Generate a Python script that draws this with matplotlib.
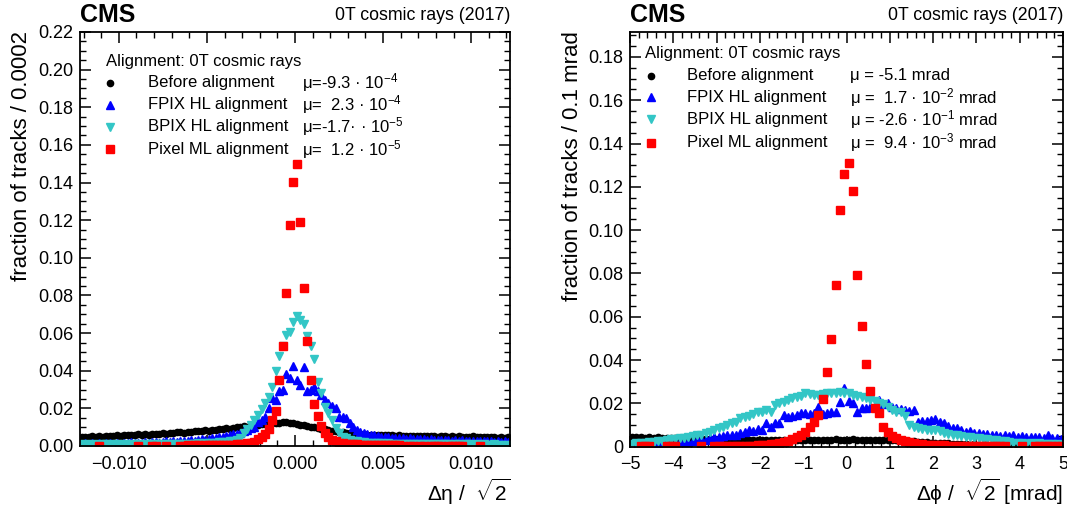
import numpy as np
import matplotlib
matplotlib.use('Agg')
import matplotlib.pyplot as plt
from matplotlib.ticker import MultipleLocator, FuncFormatter

plt.rcParams['font.family'] = ['Liberation Sans', 'DejaVu Sans']
plt.rcParams['mathtext.fontset'] = 'custom'
plt.rcParams['mathtext.rm'] = 'Liberation Sans'
plt.rcParams['mathtext.it'] = 'Liberation Sans'
plt.rcParams['mathtext.bf'] = 'Liberation Sans:bold'

# ---- delta eta / sqrt2 : 122 bins of 0.0002 from -0.0122 to 0.0122
eta_range = (-0.0122, 0.0122)
eta_before = [0.0048, 0.0050, 0.0046, 0.0051, 0.0049, 0.0053, 0.0050, 0.0054, 0.0052, 0.0055,
              0.0057, 0.0053, 0.0058, 0.0056, 0.0060, 0.0058, 0.0062, 0.0059, 0.0063, 0.0061,
              0.0064, 0.0062, 0.0066, 0.0068, 0.0065, 0.0070, 0.0069, 0.0072, 0.0074, 0.0071,
              0.0076, 0.0075, 0.0078, 0.0080, 0.0079, 0.0083, 0.0082, 0.0086, 0.0085, 0.0089,
              0.0091, 0.0093, 0.0092, 0.0097, 0.0099, 0.0101, 0.0104, 0.0103, 0.0108, 0.0110,
              0.0112, 0.0115, 0.0117, 0.0120, 0.0122, 0.0124, 0.0123, 0.0126, 0.0125, 0.0122,
              0.0120, 0.0116, 0.0113, 0.0110, 0.0106, 0.0103, 0.0099, 0.0096, 0.0092, 0.0088,
              0.0085, 0.0081, 0.0078, 0.0075, 0.0072, 0.0070, 0.0068, 0.0066, 0.0065, 0.0063,
              0.0062, 0.0061, 0.0060, 0.0059, 0.0058, 0.0059, 0.0057, 0.0056, 0.0057, 0.0055,
              0.0056, 0.0054, 0.0055, 0.0053, 0.0054, 0.0052, 0.0053, 0.0054, 0.0051, 0.0052,
              0.0053, 0.0050, 0.0052, 0.0051, 0.0049, 0.0052, 0.0050, 0.0051, 0.0048, 0.0050,
              0.0049, 0.0051, 0.0048, 0.0050, 0.0047, 0.0049, 0.0046, 0.0048, 0.0045, 0.0047,
              0.0045, 0.0046]
eta_fpix = [0.0012, 0.0016, 0.0010, 0.0015, 0.0013, 0.0017, 0.0011, 0.0014, 0.0016, 0.0012,
            0.0015, 0.0013, 0.0017, 0.0014, 0.0019, 0.0016, 0.0018, 0.0015, 0.0020, 0.0017,
            0.0019, 0.0022, 0.0018, 0.0021, 0.0024, 0.0020, 0.0025, 0.0023, 0.0027, 0.0026,
            0.0029, 0.0031, 0.0028, 0.0033, 0.0036, 0.0034, 0.0039, 0.0042, 0.0041, 0.0046,
            0.0050, 0.0055, 0.0058, 0.0064, 0.0062, 0.0070, 0.0078, 0.0085, 0.0095, 0.0103,
            0.0125, 0.0140, 0.0156, 0.0200, 0.0254, 0.0245, 0.0290, 0.0300, 0.0380, 0.0360,
            0.0427, 0.0350, 0.0325, 0.0420, 0.0290, 0.0300, 0.0316, 0.0290, 0.0270, 0.0245,
            0.0230, 0.0210, 0.0200, 0.0156, 0.0156, 0.0150, 0.0120, 0.0100, 0.0085, 0.0075,
            0.0070, 0.0066, 0.0060, 0.0056, 0.0052, 0.0050, 0.0046, 0.0048, 0.0043, 0.0044,
            0.0040, 0.0042, 0.0038, 0.0040, 0.0036, 0.0038, 0.0035, 0.0036, 0.0033, 0.0035,
            0.0032, 0.0034, 0.0030, 0.0033, 0.0031, 0.0029, 0.0032, 0.0028, 0.0030, 0.0027,
            0.0029, 0.0026, 0.0028, 0.0025, 0.0027, 0.0024, 0.0026, 0.0023, 0.0025, 0.0022,
            0.0024, 0.0021]
eta_bpix = [0.0008, 0.0006, 0.0010, 0.0007, 0.0009, 0.0006, 0.0008, 0.0010, 0.0007, 0.0009,
            0.0008, 0.0006, 0.0009, 0.0007, 0.0010, 0.0008, 0.0009, 0.0007, 0.0011, 0.0008,
            0.0010, 0.0009, 0.0011, 0.0008, 0.0012, 0.0010, 0.0011, 0.0009, 0.0012, 0.0011,
            0.0012, 0.0013, 0.0011, 0.0014, 0.0013, 0.0015, 0.0016, 0.0015, 0.0018, 0.0019,
            0.0021, 0.0022, 0.0025, 0.0027, 0.0033, 0.0045, 0.0070, 0.0088, 0.0110, 0.0140,
            0.0165, 0.0196, 0.0228, 0.0260, 0.0316, 0.0400, 0.0480, 0.0530, 0.0590, 0.0604,
            0.0660, 0.0690, 0.0670, 0.0650, 0.0587, 0.0530, 0.0460, 0.0340, 0.0280, 0.0206,
            0.0178, 0.0139, 0.0096, 0.0070, 0.0050, 0.0040, 0.0033, 0.0028, 0.0025, 0.0022,
            0.0020, 0.0018, 0.0017, 0.0016, 0.0015, 0.0014, 0.0013, 0.0014, 0.0012, 0.0013,
            0.0012, 0.0011, 0.0012, 0.0010, 0.0011, 0.0010, 0.0009, 0.0011, 0.0009, 0.0010,
            0.0009, 0.0008, 0.0010, 0.0008, 0.0009, 0.0007, 0.0009, 0.0008, 0.0007, 0.0009,
            0.0008, 0.0007, 0.0008, 0.0006, 0.0008, 0.0007, 0.0006, 0.0008, 0.0007, 0.0006,
            0.0007, 0.0006]
eta_pixel = [0, 0, 0, 0, 0, 0.0002, 0, 0, 0, 0,
             0, 0, 0, 0, 0, 0, 0.0002, 0, 0, 0,
             0.0002, 0.0002, 0, 0, 0.0002, 0, 0, 0, 0.0002, 0.0002,
             0.0003, 0.0002, 0.0003, 0.0003, 0.0002, 0.0004, 0.0003, 0.0004, 0.0004, 0.0005,
             0.0005, 0.0006, 0.0006, 0.0007, 0.0008, 0.0009, 0.0011, 0.0014, 0.0018, 0.0023,
             0.0036, 0.0050, 0.0065, 0.0092, 0.0140, 0.0184, 0.0353, 0.0530, 0.0811, 0.1175,
             0.1403, 0.1500, 0.1191, 0.0838, 0.0560, 0.0352, 0.0224, 0.0157, 0.0106, 0.0068,
             0.0050, 0.0032, 0.0024, 0.0018, 0.0014, 0.0012, 0.0010, 0.0009, 0.0008, 0.0007,
             0.0006, 0.0006, 0.0005, 0.0005, 0.0004, 0.0004, 0.0003, 0.0004, 0.0003, 0.0003,
             0.0003, 0.0002, 0, 0.0002, 0.0002, 0, 0.0002, 0.0002, 0, 0.0002,
             0.0002, 0.0002, 0.0002, 0, 0.0002, 0.0002, 0.0002, 0.0002, 0.0002, 0,
             0, 0, 0, 0.0002, 0, 0, 0, 0, 0, 0,
             0, 0]

# ---- delta phi / sqrt2 [mrad] : 100 bins of 0.1 mrad from -5 to 5
phi_range = (-5.0, 5.0)
phi_before = [0.0045, 0.0043, 0.0046, 0.0042, 0.0044, 0.0041, 0.0043, 0.0040, 0.0042, 0.0039,
              0.0041, 0.0038, 0.0040, 0.0037, 0.0039, 0.0036, 0.0038, 0.0035, 0.0037, 0.0034,
              0.0036, 0.0034, 0.0035, 0.0033, 0.0035, 0.0032, 0.0034, 0.0031, 0.0033, 0.0030,
              0.0032, 0.0030, 0.0031, 0.0029, 0.0031, 0.0030, 0.0028, 0.0031, 0.0029, 0.0030,
              0.0031, 0.0029, 0.0032, 0.0030, 0.0033, 0.0031, 0.0032, 0.0034, 0.0031, 0.0033,
              0.0032, 0.0034, 0.0031, 0.0033, 0.0032, 0.0030, 0.0033, 0.0031, 0.0032, 0.0030,
              0.0031, 0.0029, 0.0030, 0.0027, 0.0028, 0.0025, 0.0024, 0.0022, 0.0021, 0.0019,
              0.0018, 0.0017, 0.0015, 0.0016, 0.0013, 0.0014, 0.0012, 0.0011, 0.0010, 0.0011,
              0.0009, 0.0008, 0.0009, 0.0007, 0.0008, 0.0006, 0.0007, 0.0005, 0.0006, 0.0005,
              0.0004, 0.0005, 0.0004, 0.0003, 0.0004, 0.0003, 0.0004, 0.0003, 0.0002, 0.0003]
phi_fpix = [0.0012, 0.0016, 0.0014, 0.0017, 0.0013, 0.0016, 0.0015, 0.0018, 0.0016, 0.0017,
            0.0019, 0.0021, 0.0023, 0.0022, 0.0026, 0.0030, 0.0035, 0.0033, 0.0040, 0.0046,
            0.0044, 0.0048, 0.0052, 0.0056, 0.0054, 0.0062, 0.0068, 0.0077, 0.0072, 0.0080,
            0.0077, 0.0108, 0.0092, 0.0108, 0.0110, 0.0146, 0.0138, 0.0142, 0.0146, 0.0154,
            0.0155, 0.0150, 0.0154, 0.0185, 0.0150, 0.0154, 0.0162, 0.0158, 0.0205, 0.0270,
            0.0210, 0.0200, 0.0162, 0.0177, 0.0180, 0.0185, 0.0190, 0.0215, 0.0195, 0.0200,
            0.0185, 0.0180, 0.0175, 0.0170, 0.0165, 0.0170, 0.0115, 0.0120, 0.0118, 0.0123,
            0.0126, 0.0112, 0.0108, 0.0095, 0.0085, 0.0088, 0.0075, 0.0069, 0.0072, 0.0064,
            0.0062, 0.0058, 0.0060, 0.0054, 0.0056, 0.0050, 0.0054, 0.0048, 0.0054, 0.0046,
            0.0048, 0.0044, 0.0046, 0.0043, 0.0045, 0.0040, 0.0054, 0.0042, 0.0038, 0.0035]
phi_bpix = [0.0012, 0.0016, 0.0019, 0.0018, 0.0021, 0.0023, 0.0026, 0.0028, 0.0031, 0.0034,
            0.0037, 0.0039, 0.0042, 0.0046, 0.0049, 0.0052, 0.0056, 0.0062, 0.0069, 0.0075,
            0.0085, 0.0090, 0.0098, 0.0108, 0.0115, 0.0131, 0.0135, 0.0140, 0.0152, 0.0160,
            0.0160, 0.0168, 0.0160, 0.0192, 0.0200, 0.0205, 0.0215, 0.0225, 0.0230, 0.0235,
            0.0246, 0.0242, 0.0238, 0.0240, 0.0245, 0.0248, 0.0250, 0.0246, 0.0252, 0.0246,
            0.0250, 0.0240, 0.0232, 0.0230, 0.0225, 0.0215, 0.0212, 0.0200, 0.0195, 0.0185,
            0.0170, 0.0162, 0.0160, 0.0140, 0.0100, 0.0090, 0.0085, 0.0080, 0.0077, 0.0079,
            0.0077, 0.0072, 0.0062, 0.0060, 0.0055, 0.0054, 0.0050, 0.0046, 0.0044, 0.0042,
            0.0039, 0.0036, 0.0034, 0.0031, 0.0030, 0.0027, 0.0025, 0.0020, 0.0015, 0.0016,
            0.0018, 0.0014, 0.0016, 0.0013, 0.0015, 0.0012, 0.0014, 0.0011, 0.0013, 0.0010]
phi_pixel = [0, 0, 0.0002, 0.0002, 0.0002, 0, 0, 0, 0.0002, 0.0002,
             0.0002, 0, 0, 0, 0, 0, 0.0002, 0, 0, 0.0002,
             0.0002, 0.0002, 0.0003, 0.0002, 0.0003, 0.0003, 0.0004, 0.0004, 0.0005, 0.0006,
             0.0008, 0.0009, 0.0011, 0.0014, 0.0017, 0.0022, 0.0027, 0.0034, 0.0043, 0.0055,
             0.0068, 0.0092, 0.0115, 0.0146, 0.0220, 0.0343, 0.0496, 0.0746, 0.1095, 0.1258,
             0.1308, 0.1180, 0.0792, 0.0557, 0.0380, 0.0257, 0.0177, 0.0154, 0.0092, 0.0066,
             0.0048, 0.0038, 0.0031, 0.0025, 0.0020, 0.0018, 0.0014, 0.0011, 0.0009, 0.0008,
             0.0007, 0.0006, 0.0006, 0.0005, 0.0004, 0.0004, 0.0003, 0.0004, 0.0003, 0.0003,
             0.0003, 0.0002, 0.0002, 0.0003, 0.0002, 0.0002, 0.0002, 0, 0, 0,
             0.0002, 0, 0, 0.0002, 0.0002, 0.0002, 0.0002, 0.0002, 0.0002, 0.0002]

labels = ['Before alignment', 'FPIX HL alignment', 'BPIX HL alignment', 'Pixel ML alignment']
eta_mu = ['μ=-9.3 · 10$^{-4}$', 'μ=  2.3 · 10$^{-4}$',
          'μ=-1.7· · 10$^{-5}$', 'μ=  1.2 · 10$^{-5}$']
phi_mu = ['μ = -5.1 mrad', 'μ =  1.7 · 10$^{-2}$ mrad',
          'μ = -2.6 · 10$^{-1}$ mrad', 'μ =  9.4 · 10$^{-3}$ mrad']

styles = [dict(marker='o', color='black', ms=4.5),
          dict(marker='^', color='#0000ff', ms=5.5),
          dict(marker='v', color='#33c6c6', ms=5.5),
          dict(marker='s', color='#ff0000', ms=5.8)]


def centres(rng, n):
    w = (rng[1] - rng[0]) / n
    return rng[0] + w * (np.arange(n) + 0.5)


def draw(ax, rng, series):
    for vals, st in zip(series, styles):
        v = np.array(vals, dtype=float)
        x = centres(rng, len(v))
        keep = v > 0   # empty bins are not drawn
        ax.plot(x[keep], v[keep], linestyle='none', marker=st['marker'],
                color=st['color'], mec=st['color'], ms=st['ms'])


def legend(ax, title, tx, ty, mx, lx, ux, rows, mus):
    ax.text(tx, ty, title, transform=ax.transAxes, fontsize=12, va='center')
    for st, lab, mu, ry in zip(styles, labels, mus, rows):
        ax.plot([mx], [ry], transform=ax.transAxes, linestyle='none',
                marker=st['marker'], color=st['color'], ms=st['ms'])
        ax.text(lx, ry, lab, transform=ax.transAxes, fontsize=12, va='center')
        ax.text(ux, ry, mu, transform=ax.transAxes, fontsize=12, va='center')


def style_axes(ax):
    ax.tick_params(which='both', direction='in', top=True, right=True, labelsize=13)
    ax.tick_params(which='major', length=8, width=1.1)
    ax.tick_params(which='minor', length=4.5, width=1.0)
    ax.tick_params(axis='x', pad=7)
    ax.tick_params(axis='y', pad=5)
    for s in ax.spines.values():
        s.set_linewidth(1.3)


fig = plt.figure(figsize=(10.67, 5.14), dpi=100)
W, H = 1067, 514
ax1 = fig.add_axes([80 / W, (H - 446) / H, 430 / W, 414 / H])
ax2 = fig.add_axes([630 / W, (H - 446.7) / H, 433 / W, 414.7 / H])

# left panel
draw(ax1, eta_range, [eta_before, eta_fpix, eta_bpix, eta_pixel])
ax1.set_xlim(*eta_range)
ax1.set_ylim(0, 0.22)
ax1.xaxis.set_major_locator(MultipleLocator(0.005))
ax1.xaxis.set_minor_locator(MultipleLocator(0.001))
ax1.yaxis.set_major_locator(MultipleLocator(0.02))
ax1.yaxis.set_minor_locator(MultipleLocator(0.005))
ax1.xaxis.set_major_formatter(FuncFormatter(lambda v, p: ('%.3f' % v).replace('-', '\u2212') if abs(v) > 1e-9 else '0.000'))
ax1.yaxis.set_major_formatter(FuncFormatter(lambda v, p: '%.2f' % v))
style_axes(ax1)
legend(ax1, 'Alignment: 0T cosmic rays', 0.060, 0.928, 0.070, 0.157, 0.516,
       [0.877, 0.824, 0.771, 0.717], eta_mu)

# right panel
draw(ax2, phi_range, [phi_before, phi_fpix, phi_bpix, phi_pixel])
ax2.set_xlim(*phi_range)
ax2.set_ylim(0, 0.1915)
ax2.xaxis.set_major_locator(MultipleLocator(1))
ax2.xaxis.set_minor_locator(MultipleLocator(0.2))
ax2.yaxis.set_major_locator(MultipleLocator(0.02))
ax2.yaxis.set_minor_locator(MultipleLocator(0.005))
ax2.xaxis.set_major_formatter(FuncFormatter(lambda v, p: ('%d' % round(v)).replace('-', '\u2212')))
ax2.yaxis.set_major_formatter(FuncFormatter(lambda v, p: '0' if abs(v) < 1e-9 else '%.2f' % v))
style_axes(ax2)
legend(ax2, 'Alignment: 0T cosmic rays', 0.035, 0.947, 0.048, 0.132, 0.508,
       [0.894, 0.843, 0.790, 0.733], phi_mu)

# headers and axis titles
for x0, x1 in [(80, 510), (630, 1063)]:
    fig.text(x0 / W, 1 - 15 / H, 'CMS', fontsize=18, fontweight='bold', va='center', ha='left')
    fig.text(x1 / W, 1 - 16 / H, '0T cosmic rays (2017)', fontsize=12.8, va='center', ha='right')

fig.text(22 / W, 1 - 31 / H, 'fraction of tracks / 0.0002', rotation=90,
         fontsize=16, ha='center', va='top')
fig.text(572 / W, 1 - 31 / H, 'fraction of tracks / 0.1 mrad', rotation=90,
         fontsize=16, ha='center', va='top')
fig.text(510 / W, 1 - 492 / H, 'Δη /  $\\sqrt{2}$', fontsize=15, ha='right', va='center')
fig.text(1063 / W, 1 - 492 / H, 'Δϕ /  $\\sqrt{2}$ [mrad]', fontsize=15, ha='right', va='center')

fig.savefig('out.png', dpi=100)
